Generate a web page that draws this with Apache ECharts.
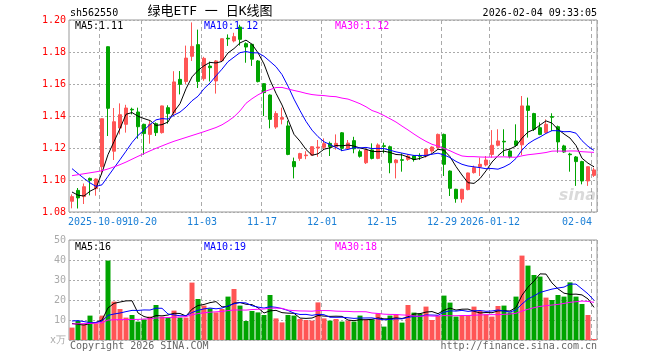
<!DOCTYPE html>
<html><head><meta charset="utf-8">
<script src="https://cdn.jsdelivr.net/npm/echarts@6/dist/echarts.min.js"></script>
<style>html,body{margin:0;padding:0;background:#fff}#c{width:660px;height:360px}</style>
</head><body><div id="c"></div>
<script>
const dates = ['2025-09-24','2025-09-25','2025-09-26','2025-09-29','2025-09-30','2025-10-09','2025-10-10','2025-10-13','2025-10-14','2025-10-15','2025-10-16','2025-10-17','2025-10-20','2025-10-21','2025-10-22','2025-10-23','2025-10-24','2025-10-27','2025-10-28','2025-10-29','2025-10-30','2025-10-31','2025-11-03','2025-11-04','2025-11-05','2025-11-06','2025-11-07','2025-11-10','2025-11-11','2025-11-12','2025-11-13','2025-11-14','2025-11-17','2025-11-18','2025-11-19','2025-11-20','2025-11-21','2025-11-24','2025-11-25','2025-11-26','2025-11-27','2025-11-28','2025-12-01','2025-12-02','2025-12-03','2025-12-04','2025-12-05','2025-12-08','2025-12-09','2025-12-10','2025-12-11','2025-12-12','2025-12-15','2025-12-16','2025-12-17','2025-12-18','2025-12-19','2025-12-22','2025-12-23','2025-12-24','2025-12-25','2025-12-26','2025-12-29','2025-12-30','2025-12-31','2026-01-05','2026-01-06','2026-01-07','2026-01-08','2026-01-09','2026-01-12','2026-01-13','2026-01-14','2026-01-15','2026-01-16','2026-01-19','2026-01-20','2026-01-21','2026-01-22','2026-01-23','2026-01-26','2026-01-27','2026-01-28','2026-01-29','2026-01-30','2026-02-02','2026-02-03','2026-02-04'];

const open = [
1.0867,1.0935,1.0896,1.1010,1.0946,1.1083,1.1833,1.1180,1.1325,1.1348,
1.1442,1.1425,1.1348,1.1285,1.1352,1.1296,1.1452,1.1420,1.1629,1.1616,
1.1773,1.1846,1.1633,1.1712,1.1619,1.1746,1.1886,1.1869,1.1956,1.1852,
1.1848,1.1744,1.1602,1.1531,1.1331,1.1380,1.1338,1.1115,1.1135,1.1152,
1.1156,1.1200,1.1204,1.1229,1.1208,1.1295,1.1198,1.1246,1.1177,1.1108,
1.1188,1.1135,1.1214,1.1208,1.1108,1.1127,1.1129,1.1150,1.1152,1.1150,
1.1181,1.1202,1.1285,1.1056,1.0942,1.0881,1.0940,1.1046,1.1083,1.1094,
1.1160,1.1217,1.1242,1.1181,1.1244,1.1220,1.1463,1.1415,1.1327,1.1296,
1.1396,1.1333,1.1213,1.1162,1.1144,1.1115,1.0994,1.1029];

const close = [
1.0896,1.0888,1.0958,1.0998,1.1006,1.1383,1.1448,1.1364,1.1408,1.1450,
1.1438,1.1333,1.1290,1.1348,1.1296,1.1463,1.1415,1.1613,1.1598,1.1762,
1.1835,1.1616,1.1760,1.1702,1.1744,1.1883,1.1882,1.1896,1.1879,1.1831,
1.1755,1.1615,1.1546,1.1379,1.1415,1.1390,1.1160,1.1083,1.1165,1.1156,
1.1208,1.1206,1.1227,1.1208,1.1229,1.1198,1.1231,1.1195,1.1148,1.1188,
1.1135,1.1219,1.1210,1.1108,1.1125,1.1123,1.1150,1.1129,1.1148,1.1192,
1.1206,1.1285,1.1098,1.0948,1.0883,1.0942,1.1044,1.1077,1.1098,1.1125,
1.1217,1.1244,1.1238,1.1146,1.1217,1.1463,1.1435,1.1317,1.1285,1.1348,
1.1392,1.1238,1.1175,1.1158,1.1115,1.0994,1.1083,1.1063];

const high = [
1.0910,1.0950,1.0978,1.1015,1.1010,1.1385,1.1835,1.1450,1.1479,1.1470,
1.1452,1.1452,1.1352,1.1369,1.1360,1.1465,1.1467,1.1680,1.1681,1.1840,
1.1985,1.1940,1.1770,1.1740,1.1750,1.1885,1.1910,1.1920,1.1970,1.1860,
1.1850,1.1750,1.1605,1.1535,1.1430,1.1452,1.1370,1.1140,1.1170,1.1180,
1.1210,1.1250,1.1260,1.1240,1.1285,1.1300,1.1250,1.1270,1.1190,1.1195,
1.1229,1.1229,1.1233,1.1215,1.1130,1.1167,1.1160,1.1155,1.1167,1.1195,
1.1210,1.1290,1.1290,1.1060,1.0945,1.0945,1.1046,1.1090,1.1140,1.1150,
1.1312,1.1317,1.1317,1.1190,1.1348,1.1525,1.1515,1.1420,1.1360,1.1379,
1.1417,1.1340,1.1220,1.1170,1.1150,1.1120,1.1085,1.1077];

const low = [
1.0823,1.0822,1.0850,1.0904,1.0902,1.1035,1.1275,1.1125,1.1285,1.1296,
1.1410,1.1258,1.1158,1.1227,1.1275,1.1290,1.1352,1.1400,1.1535,1.1600,
1.1744,1.1575,1.1620,1.1616,1.1540,1.1740,1.1838,1.1860,1.1840,1.1733,
1.1713,1.1610,1.1400,1.1323,1.1320,1.1348,1.1155,1.1010,1.1120,1.1130,
1.1150,1.1145,1.1190,1.1150,1.1190,1.1180,1.1190,1.1167,1.1140,1.1100,
1.1129,1.1130,1.1167,1.1042,1.1010,1.1052,1.1120,1.1115,1.1125,1.1140,
1.1170,1.1195,1.1025,1.0900,1.0858,1.0858,1.0935,1.1040,1.1025,1.1085,
1.1140,1.1210,1.1150,1.1135,1.1210,1.1156,1.1265,1.1306,1.1280,1.1290,
1.1306,1.1171,1.1170,1.1052,1.0963,1.0973,1.0963,1.1019];

// volume, 万
const volume = [
6.2,9.5,7.8,12.2,8.3,12.2,39.7,19.2,15.5,11.2,
12.5,9.2,10.3,11.7,17.5,11.7,11.2,14.7,11.2,11.2,
28.7,20.5,17.2,15.8,13.8,15.5,21.7,25.5,17.2,9.5,
14.5,13.8,12.5,22.5,10.8,8.8,12.5,12.2,10.5,10.0,
9.7,18.8,10.8,9.7,10.5,9.2,9.7,9.2,12.2,10.3,
10.3,13.3,6.7,12.2,12.8,8.7,17.5,13.7,13.2,16.7,
10.0,12.2,22.2,18.7,11.7,12.2,12.5,16.7,14.5,12.8,
11.7,17.0,17.2,13.8,21.7,42.2,37.2,32.5,31.7,21.2,
20.0,22.5,21.7,28.8,21.7,18.0,12.5,0.5];

// moving-average values at the start of the window (history before first candle)
const ma5Head = [1.0925,1.0905,1.0900,1.0930];
const ma10Head = [1.1071,1.1040,1.1010,1.0982,1.0960,1.0970,1.1023,1.1075,1.1127];
const ma30Head = [1.1027,1.1033,1.1039,1.1045,1.1051,1.1058,1.1069,1.1082,1.1096,1.1112,1.1130,1.1148,1.1165,1.1182,1.1198,1.1213,1.1228,1.1242,1.1254,1.1266,1.1278,1.1290,1.1302,1.1315,1.1328,1.1345,1.1368,1.1395,1.1432];
const vma5Head = [8.3,7.8,7.5,8.2];
const vma10Head = [9.5,9.7,9.2,8.7,8.7,9.5,12.3,13.0,13.5];
const vma30Head = [8.0,8.1,8.2,8.3,8.4,8.6,10.0,10.1,10.2,10.2,10.3,10.3,10.5,10.6,11.0,11.1,11.2,11.4,11.5,11.7,12.6,13.2,13.6,13.9,14.1,14.3,14.7,15.0,15.0];

const tickIndex = [5,12,22,32,42,52,62,70,87];
const tickLabel = ['2025-10-09','10-20','11-03','11-17','12-01','12-15','12-29','2026-01-12','02-04'];
const priceTicks = [1.08,1.20,0.02];
const volTicks = [0,50,10];
const maLegend = ['MA5:1.11','MA10:1.12','MA30:1.12'];
const volLegend = ['MA5:16','MA10:19','MA30:18'];

function calcMA(src, n, head){
  return src.map((_, i) => {
    if (i < n - 1) return head[i];
    let s = 0; for (let k = i - n + 1; k <= i; k++) s += src[k];
    return +(s / n).toFixed(5);
  });
}

const RED = '#ff5555', GREEN = '#00a400';
const MONO = "'DejaVu Sans Mono', monospace";
const GL = 69, GW = 528;

const chart = echarts.init(document.getElementById('c'));
const dashLine = {show:true, interval:(i)=>tickIndex.includes(i), lineStyle:{color:'#aaa', type:[4,3], width:1}};
const lineS = (name, data, color, xi, yi) => ({name, type:'line', data, xAxisIndex:xi, yAxisIndex:yi, symbol:'none', silent:true, z:5,
  lineStyle:{color, width:1}, itemStyle:{color}});

const txt = (text, x, y, fill, align, size, extra) => ({type:'text', x, y, z:100, silent:true,
  style:Object.assign({text, fill, fontSize:size||10, fontFamily:MONO, align:align||'left', verticalAlign:'middle'}, extra||{})});

// label groups: middle ticks, first tick, last tick (separate axes so labels don't suppress each other)
const midTicks = tickIndex.slice(1, -1);
const labelAxis = (show, padding, align) => ({type:'category', gridIndex:0, data:dates, boundaryGap:true, position:'bottom',
  axisLine:{show:false}, axisTick:{show:false}, splitLine:{show:false},
  axisLabel:{show:true, interval:(i)=>show.includes(i), formatter:(v,i)=>tickLabel[tickIndex.indexOf(i)],
    color:'#1a7fd6', fontSize:10, fontFamily:MONO, margin:5, padding, align, hideOverlap:false}});

chart.setOption({
  animation:false,
  backgroundColor:'#fff',
  grid:[
    {left:GL, width:GW, top:20, height:192, show:true, borderColor:'#999', borderWidth:1},
    {left:GL, width:GW, top:240, height:100, show:true, borderColor:'#999', borderWidth:1}
  ],
  xAxis:[
    Object.assign(labelAxis(midTicks, [0,4,0,0], 'center'), {splitLine:dashLine}),
    {type:'category', gridIndex:1, data:dates, boundaryGap:true,
     axisLine:{show:false}, axisTick:{show:false}, splitLine:dashLine, axisLabel:{show:false}},
    labelAxis([tickIndex[0]], [0,8,0,0], 'center'),
    labelAxis([tickIndex[tickIndex.length-1]], [0,2,0,0], 'right')
  ],
  yAxis:[
    {type:'value', gridIndex:0, min:priceTicks[0], max:priceTicks[1], interval:priceTicks[2], scale:true,
     axisLine:{show:false}, axisTick:{show:false},
     splitLine:{show:true, lineStyle:{color:'#aaa', type:[2,2], width:1}},
     axisLabel:{color:'#ff0000', fontSize:10, fontFamily:MONO, margin:3, formatter:(v)=>v.toFixed(2)}},
    {type:'value', gridIndex:1, min:volTicks[0], max:volTicks[1], interval:volTicks[2],
     axisLine:{show:false}, axisTick:{show:false},
     splitLine:{show:true, lineStyle:{color:'#aaa', type:[2,2], width:1}},
     axisLabel:{color:'#aaa', fontSize:10, fontFamily:MONO, margin:3, formatter:(v)=> v===0 ? 'x万' : String(v)}}
  ],
  series:[
    {type:'candlestick', xAxisIndex:0, yAxisIndex:0, barWidth:4, z:3,
     data:dates.map((d,i)=>[open[i], close[i], low[i], high[i]]),
     itemStyle:{color:RED, color0:GREEN, borderColor:RED, borderColor0:GREEN, borderWidth:1}},
    lineS('MA5', calcMA(close,5,ma5Head), '#000000', 0, 0),
    lineS('MA10', calcMA(close,10,ma10Head), '#0000ff', 0, 0),
    lineS('MA30', calcMA(close,30,ma30Head), '#ff00ff', 0, 0),
    {type:'bar', xAxisIndex:1, yAxisIndex:1, barWidth:5, z:3,
     data:volume.map((v,i)=>({value:v, itemStyle:{color: close[i] >= open[i] ? RED : GREEN}}))},
    lineS('VMA5', calcMA(volume,5,vma5Head), '#000000', 1, 1),
    lineS('VMA10', calcMA(volume,10,vma10Head), '#0000ff', 1, 1),
    lineS('VMA30', calcMA(volume,30,vma30Head), '#ff00ff', 1, 1)
  ],
  graphic:[
    txt('sh562550', 70, 13, '#000'),
    txt('绿电ETF 一 日K线图', 210, 12, '#000', 'center', 13, {fontFamily:"'DejaVu Sans Mono','Noto Sans CJK SC'"}),
    txt('2026-02-04 09:33:05', 597, 13, '#000', 'right'),
    txt(maLegend[0], 75, 26, '#000'),
    txt(maLegend[1], 204, 26, '#0000ff'),
    txt(maLegend[2], 335, 26, '#ff00ff'),
    txt(volLegend[0], 75, 247, '#000'),
    txt(volLegend[1], 204, 247, '#0000ff'),
    txt(volLegend[2], 335, 247, '#ff00ff'),
    txt('Copyright 2026 SINA.COM', 70, 346, '#666'),
    txt('http://finance.sina.com.cn', 597, 346, '#666', 'right'),
    txt('sina', 596, 196, 'rgba(150,150,150,0.35)', 'right', 16, {fontFamily:"'DejaVu Sans', sans-serif", fontWeight:'bold', fontStyle:'italic'})
  ]
});
</script></body></html>
